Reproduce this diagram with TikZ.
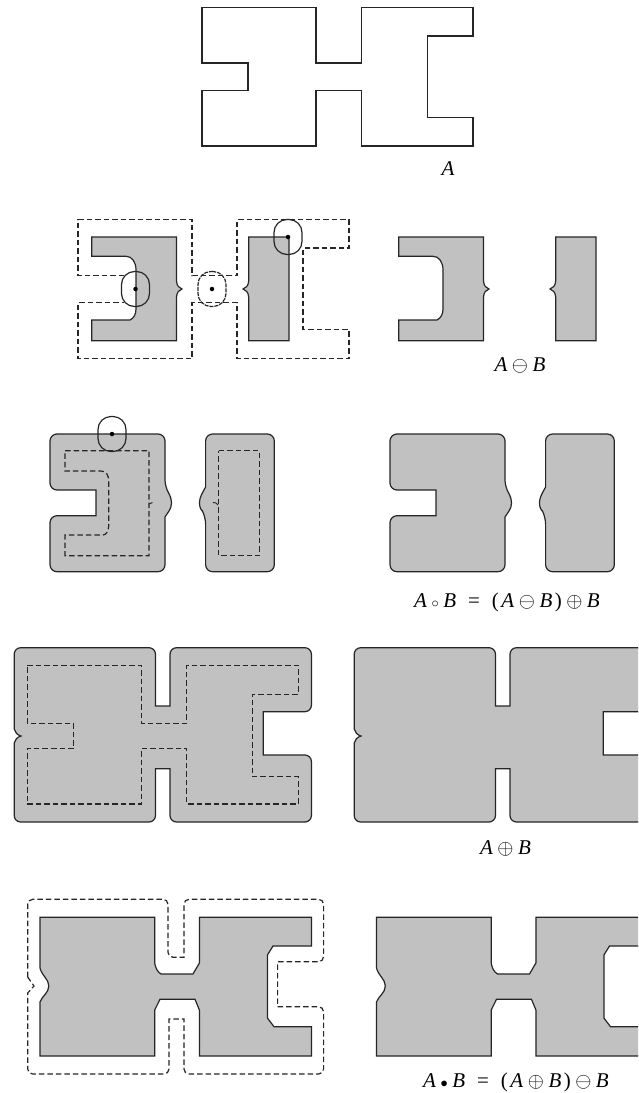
\documentclass[tikz,border=0pt]{standalone}
\usepackage{xcolor}
\usepackage{fontspec}
\setmainfont{Liberation Serif}

\definecolor{regiongray}{HTML}{C1C1C1}
\newcommand{\vA}{\textit{A}}
\newcommand{\vB}{\textit{B}}
\newcommand{\opgap}{\hspace{4.5pt}}

\newcommand{\shapeA}{(202,7.5) -- (316,7.5) -- (316,63) -- (361.5,63) -- (361.5,7.5) -- (473,7.5) -- (473,36) -- (427.5,36) -- (427.5,117.5) -- (473,117.5) -- (473,146) -- (361.5,146) -- (361.5,90.5) -- (316,90.5) -- (316,146) -- (202,146) -- (202,90.5) -- (248,90.5) -- (248,63) -- (202,63) -- cycle}
\newcommand{\erodeLeft}{(91.7,237) -- (176.5,237) -- (176.5,281) .. controls (177,286) and (179,288) .. (182,289) .. controls (179,290) and (177,292) .. (176.5,297) -- (176.5,340.7) -- (91.7,340.7) -- (91.7,320) -- (130,320) .. controls (134,318) and (136,314) .. (136,309) -- (136,270) .. controls (136,262) and (132,256.3) .. (126,256.3) -- (91.7,256.3) -- cycle}
\newcommand{\erodeRight}{(248.7,237) -- (289,237) -- (289,340.7) -- (248.7,340.7) -- (248.7,297) .. controls (248.2,292) and (246,290) .. (243,289) .. controls (246,288) and (248.2,286) .. (248.7,281) -- cycle}
\newcommand{\openLeft}{[rounded corners=7pt] (50,434) -- (165,434) -- (165,487) [sharp corners] .. controls (168,492) and (171.5,497) .. (171.5,503) .. controls (171.5,509) and (168,512) .. (165,517) [rounded corners=7pt] -- (165,571.7) -- (50,571.7) -- (50,515.7) [sharp corners] -- (96,515.7) -- (96,490) [rounded corners=7pt] -- (50,490) -- cycle}
\newcommand{\openRight}{[rounded corners=7pt] (205.6,434) -- (274.3,434) -- (274.3,571.7) -- (205.6,571.7) -- (205.6,517) [sharp corners] .. controls (203,512) and (199.4,509) .. (199.4,503) .. controls (199.4,497) and (203,492) .. (205.6,487) [rounded corners=7pt] -- cycle}
\newcommand{\dilate}{[rounded corners=6.5pt] (14.2,647.7) -- (155.5,647.7) [sharp corners] -- (155.5,706) -- (170,706) [rounded corners=6.5pt] -- (170,647.7) -- (311.4,647.7) -- (311.4,711.7) [sharp corners] -- (263.3,711.7) -- (263.3,755) [rounded corners=6.5pt] -- (311.4,755) -- (311.4,822) -- (170,822) [sharp corners] -- (170,768.7) -- (155.5,768.7) [rounded corners=6.5pt] -- (155.5,822) -- (14.2,822) [sharp corners] -- (14.2,743) .. controls (15,740) and (17,737) .. (21,736) .. controls (17,735) and (15,732) .. (14.2,729) [rounded corners=6.5pt] -- cycle}
\newcommand{\closeA}{(40,917.3) -- (154.7,917.3) -- (154.7,963) .. controls (155.5,968) and (157.5,972) .. (161,974) -- (193,974) -- (199.4,963) -- (199.4,917.3) -- (311.4,917.3) -- (311.4,946) -- (273,946) -- (267.4,955) -- (267.4,1018) -- (274,1026.7) -- (311.4,1026.7) -- (311.4,1056) -- (199.4,1056) -- (199.4,1010) -- (195,999.3) -- (160,999.3) -- (154.7,1010) -- (154.7,1056) -- (40,1056) -- (40,1002) .. controls (42,996) and (48.8,993) .. (48.8,986) .. controls (48.8,979) and (42,976) .. (40,968) -- cycle}

\begin{document}
\begin{tikzpicture}[x=1pt, y=-1pt, line width=1.2pt, line join=miter,
    outline/.style={draw=black!85},
    region/.style={draw=black!85, fill=regiongray},
    trace/.style={draw=black!85, dash pattern=on 5.5pt off 3pt},
    probe/.style={rectangle, rounded corners=13pt, draw=black!85, minimum width=28pt, minimum height=35pt, inner sep=0pt},
    centre/.style={circle, fill=black, minimum size=4.5pt, inner sep=0pt},
    caption/.style={inner sep=0pt, font=\fontsize{21}{21}\selectfont}]
    \clip (0,0) rectangle (638,1093);
    \fill[white] (0,0) rectangle (638,1093);

    \draw[outline] \shapeA;
    \node[caption] (capA) at (448,169) {\vA};

    \draw[trace] (124,275.5) -- (78,275.5) -- (78,219.5) -- (192,219.5) -- (192,275.5) -- (237,275.5) -- (237,219.5) -- (349,219.5) -- (349,248) -- (303,248) -- (303,329.5) -- (349,329.5) -- (349,358.5) -- (237,358.5) -- (237,302.5) -- (192,302.5) -- (192,358.5) -- (78,358.5) -- (78,302.5) -- (124,302.5);
    \foreach \dx in {0,307} {
        \draw[region, xshift=\dx pt] \erodeLeft;
        \draw[region, xshift=\dx pt] \erodeRight;
    }
    \node[probe] (probeNotch) at (135.5,289) {};
    \node[probe, dash pattern=on 4pt off 1pt] (probeGap) at (212,289) {};
    \node[probe] (probeTop) at (288,237) {};
    \node[centre] at (probeNotch.center) {};
    \node[centre] at (probeGap.center) {};
    \node[centre] at (probeTop.center) {};
    \node[caption] (capErode) at (520,365) {\vA\opgap$\ominus$\opgap\vB};

    \foreach \dx in {0,340} {
        \draw[region, xshift=\dx pt] \openLeft;
        \draw[region, xshift=\dx pt] \openRight;
    }
    \draw[trace] (65,450.7) -- (149,450.7) -- (149,555.7) -- (65,555.7) -- (65,535) -- (103,535) .. controls (106,535) and (108.7,531) .. (108.7,526) -- (108.7,481) .. controls (108.7,475) and (106,471) .. (101,471) -- (65,471) -- cycle;
    \draw[trace] (218.8,450.7) -- (259.5,450.7) -- (259.5,555.7) -- (218.8,555.7) -- cycle;
    \draw[outline, line width=1pt] (149,504) -- (152.5,502.5);
    \draw[outline, line width=1pt] (213,502.5) -- (216,503) -- (218,505);
    \node[probe] (probeEdge) at (112,434) {};
    \node[centre] at (probeEdge.center) {};
    \node[caption] (capOpen) at (507,602) {\vA\opgap$\scriptstyle\circ$\opgap\vB\hspace{12pt}=\hspace{12pt}(\hspace{2.5pt}\vA\opgap$\ominus$\opgap\vB\hspace{2.5pt})\hspace{4.5pt}$\oplus$\hspace{4.5pt}\vB};

    \foreach \dx in {0,340} {
        \draw[region, xshift=\dx pt] \dilate;
    }
    \draw[trace] (27.3,665.3) -- (141.6,665.3) -- (141.6,723.3) -- (186.8,723.3) -- (186.8,665.3) -- (298.3,665.3) -- (298.3,694.3) -- (252.3,694.3) -- (252.3,776.7) -- (298.3,776.7) -- (298.3,804) -- (186.8,804) -- (186.8,748.3) -- (141.6,748.3) -- (141.6,804) -- (27.3,804) -- (27.3,748.3) -- (73.7,748.3) -- (73.7,723.3) -- (27.3,723.3) -- cycle;
    \node[caption] (capDilate) at (505.5,848) {\vA\opgap$\oplus$\opgap\vB};

    \foreach \dx in {0,336.5} {
        \draw[region, xshift=\dx pt] \closeA;
    }
    \draw[trace, rounded corners=5pt] (27.7,977) -- (27.7,899.3) -- (168,899.3) -- (168,957.3) [sharp corners] -- (184,957.3) [rounded corners=5pt] -- (184,899.3) -- (323.6,899.3) -- (323.6,961.7) [sharp corners] -- (277.6,961.7) -- (277.6,1006.7) [rounded corners=5pt] -- (323.6,1006.7) -- (323.6,1074) -- (184,1074) [sharp corners] -- (184,1019) -- (169,1019) [rounded corners=5pt] -- (169,1074) -- (27.7,1074) [sharp corners] -- (27.7,993) -- (34,986) -- cycle;
    \node[caption] (capClose) at (516,1082) {\vA\opgap$\scriptstyle\bullet$\opgap\vB\hspace{12pt}=\hspace{12pt}(\hspace{2.5pt}\vA\opgap$\oplus$\opgap\vB\hspace{2.5pt})\hspace{4.5pt}$\ominus$\hspace{4.5pt}\vB};
\end{tikzpicture}
\end{document}
